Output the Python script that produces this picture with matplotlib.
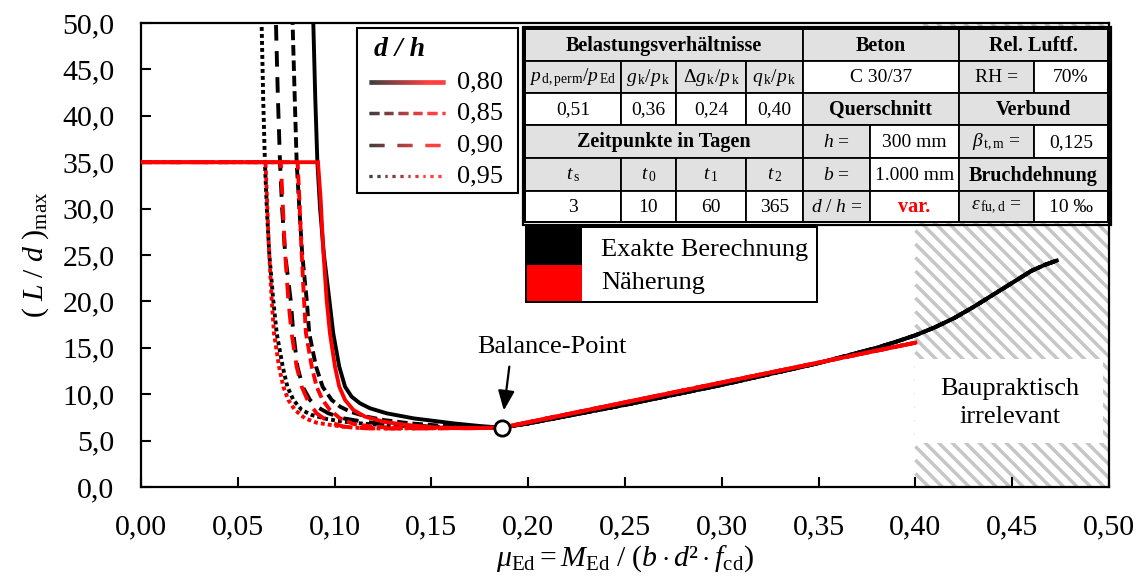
import numpy as np
import matplotlib
matplotlib.use("Agg")
import matplotlib.pyplot as plt
from matplotlib.collections import LineCollection
from matplotlib.patches import Rectangle
from matplotlib.ticker import FuncFormatter, MultipleLocator
from matplotlib.transforms import IdentityTransform

plt.rcParams['font.family'] = ['Liberation Serif', 'DejaVu Serif']
plt.rcParams['mathtext.fontset'] = 'custom'
plt.rcParams['mathtext.rm'] = 'Liberation Serif'
plt.rcParams['mathtext.it'] = 'Liberation Serif:italic'
plt.rcParams['mathtext.bf'] = 'Liberation Serif:bold'

# ---------------------------------------------------------------- data
dh_labels = ["0,80", "0,85", "0,90", "0,95"]

# balance point shared by all curves
mu_bp = 0.1863
L_bp = 6.39

# upper limit of the approximation
L_cap = 35.0

# exact calculation, left branch (steep part down to the balance point)
exact_080_mu = [0.0882, 0.0890, 0.0900, 0.0911, 0.0925, 0.0945, 0.0973, 0.0993, 0.1024, 0.1054,
                0.1088, 0.1131, 0.1183, 0.1269, 0.1407, 0.1613, 0.1751]
exact_080_L = [56, 50, 42, 35, 30, 25, 20.15, 16.56, 12.97, 10.81,
               9.73, 9.02, 8.48, 7.94, 7.40, 6.86, 6.57]
exact_085_mu = [0.0780, 0.0783, 0.0794, 0.0804, 0.0818, 0.0833, 0.0856, 0.0869, 0.0904, 0.0938,
                0.0985, 0.1028, 0.1080, 0.1166, 0.1252, 0.1389, 0.1544, 0.1682]
exact_085_L = [56, 50, 42, 35, 30, 25, 20.15, 16.56, 12.97, 10.81,
               9.38, 8.66, 8.12, 7.58, 7.22, 6.86, 6.61, 6.50]
exact_090_mu = [0.0695, 0.0697, 0.0707, 0.0718, 0.0729, 0.0745, 0.0773, 0.0787, 0.0808, 0.0835,
                0.0873, 0.0907, 0.0968, 0.1045, 0.1148, 0.1269, 0.1424, 0.1600]
exact_090_L = [56, 50, 42, 35, 30, 25, 20.15, 16.56, 12.97, 10.81,
               9.38, 8.66, 7.94, 7.40, 7.04, 6.75, 6.57, 6.45]
exact_095_mu = [0.0621, 0.0623, 0.0631, 0.0640, 0.0650, 0.0663, 0.0683, 0.0701, 0.0732, 0.0756,
                0.0787, 0.0830, 0.0882, 0.0959, 0.1045, 0.1166, 0.1350, 0.1550]
exact_095_L = [56, 50, 42, 35, 30, 25, 20.15, 16.56, 12.97, 10.81,
               9.38, 8.30, 7.76, 7.33, 7.04, 6.79, 6.60, 6.47]

# approximation, left branch (capped at L_cap)
approx_080_mu = [0.0, 0.0914, 0.0928, 0.0940, 0.0959, 0.0976, 0.1002, 0.1024, 0.1054, 0.1097,
                 0.1157, 0.1252, 0.1372, 0.1510, 0.1682]
approx_080_L = [L_cap, L_cap, 31, 26, 20.15, 16.56, 12.97, 10.81, 9.38, 8.30,
                7.58, 7.04, 6.68, 6.43, 6.32]
approx_085_mu = [0.0, 0.0809, 0.0818, 0.0828, 0.0842, 0.0852, 0.0882, 0.0907, 0.0938, 0.0976,
                 0.1028, 0.1097, 0.1200, 0.1338, 0.1510]
approx_085_L = [L_cap, L_cap, 31, 26, 20.15, 16.56, 12.97, 10.81, 9.38, 8.30,
                7.40, 6.79, 6.50, 6.36, 6.32]
approx_090_mu = [0.0, 0.0722, 0.0731, 0.0742, 0.0761, 0.0778, 0.0804, 0.0830, 0.0864, 0.0907,
                 0.0968, 0.1045, 0.1166, 0.1350]
approx_090_L = [L_cap, L_cap, 31, 26, 20.15, 16.56, 12.97, 10.81, 9.20, 7.94,
                7.04, 6.50, 6.32, 6.30]
approx_095_mu = [0.0, 0.0643, 0.0651, 0.0660, 0.0675, 0.0687, 0.0713, 0.0735, 0.0761, 0.0795,
                 0.0847, 0.0907, 0.0993, 0.1097, 0.1250]
approx_095_L = [L_cap, L_cap, 31, 26, 20.15, 16.56, 12.97, 10.81, 9.38, 8.30,
                7.40, 6.93, 6.64, 6.39, 6.30]

# right branch beyond the balance point (identical for all d/h)
exact_right_mu = [mu_bp, 0.20, 0.25, 0.30, 0.35, 0.38, 0.39, 0.40, 0.41, 0.42, 0.43, 0.44,
                  0.45, 0.46, 0.467, 0.473]
exact_right_L = [L_bp, 6.85, 8.85, 11.0, 13.35, 15.0, 15.65, 16.35, 17.2, 18.2, 19.4, 20.7,
                 22.0, 23.3, 23.95, 24.4]
approx_right_mu = [mu_bp, 0.40]
approx_right_L = [L_bp, 15.55]

# practically irrelevant range
mu_irrelevant = (0.40, 0.50)

# parameter table: (row, first col, last col, text, shaded, bold, colour)
table_cells = [
    (0, 0, 4, "Belastungsverhältnisse", True, True, "black"),
    (0, 4, 6, "Beton", True, True, "black"),
    (0, 6, 8, "Rel. Luftf.", True, True, "black"),
    (1, 0, 1, r"$p_{\,\mathrm{d,perm}}/p_{\,\mathrm{Ed}}$", True, False, "black"),
    (1, 1, 2, r"$g_{\,\mathrm{k}}/p_{\,\mathrm{k}}$", True, False, "black"),
    (1, 2, 3, r"$\Delta g_{\,\mathrm{k}}/p_{\,\mathrm{k}}$", True, False, "black"),
    (1, 3, 4, r"$q_{\,\mathrm{k}}/p_{\,\mathrm{k}}$", True, False, "black"),
    (1, 4, 6, "C 30/37", False, False, "black"),
    (1, 6, 7, "RH =", True, False, "black"),
    (1, 7, 8, "70%", False, False, "black"),
    (2, 0, 1, "0,51", False, False, "black"),
    (2, 1, 2, "0,36", False, False, "black"),
    (2, 2, 3, "0,24", False, False, "black"),
    (2, 3, 4, "0,40", False, False, "black"),
    (2, 4, 6, "Querschnitt", True, True, "black"),
    (2, 6, 8, "Verbund", True, True, "black"),
    (3, 0, 4, "Zeitpunkte in Tagen", True, True, "black"),
    (3, 4, 5, r"$h$ =", True, False, "black"),
    (3, 5, 6, "300 mm", False, False, "black"),
    (3, 6, 7, r"$\beta_{\,\mathrm{t,m}}$ =", True, False, "black"),
    (3, 7, 8, "0,125", False, False, "black"),
    (4, 0, 1, r"$t_{\,\mathrm{s}}$", True, False, "black"),
    (4, 1, 2, r"$t_{\,0}$", True, False, "black"),
    (4, 2, 3, r"$t_{\,1}$", True, False, "black"),
    (4, 3, 4, r"$t_{\,2}$", True, False, "black"),
    (4, 4, 5, r"$b$ =", True, False, "black"),
    (4, 5, 6, "1.000 mm", False, False, "black"),
    (4, 6, 8, "Bruchdehnung", True, True, "black"),
    (5, 0, 1, "3", False, False, "black"),
    (5, 1, 2, "10", False, False, "black"),
    (5, 2, 3, "60", False, False, "black"),
    (5, 3, 4, "365", False, False, "black"),
    (5, 4, 5, r"$d$ / $h$ =", True, False, "black"),
    (5, 5, 6, "var.", False, True, "red"),
    (5, 6, 7, r"$\varepsilon_{\,\mathrm{fu,d}}$ =", True, False, "black"),
    (5, 7, 8, "10 ‰", False, False, "black"),
]

# ---------------------------------------------------------------- figure
W, H = 1147, 583
fig = plt.figure(figsize=(W / 100, H / 100), dpi=100)
ax = fig.add_axes([141 / W, 1 - 487 / H, 968 / W, 464 / H])
ax.set_xlim(0, 0.5)
ax.set_ylim(0, 50)
ax.set_autoscale_on(False)

# hatched "irrelevant" range: diagonal stripes clipped to the rectangle (display pixels)
hx0, hy0 = ax.transData.transform((mu_irrelevant[0], 0.0))
hx1, hy1 = ax.transData.transform((mu_irrelevant[1], 50.0))
span = hy1 - hy0
segs = []
for c in np.arange(hx0 - span, hx1, 13.5):
    t0 = max(0.0, hx0 - c)
    t1 = min(span, hx1 - c)
    if t1 > t0:
        segs.append([(c + t0, hy1 - t0), (c + t1, hy1 - t1)])
hatch = LineCollection(segs, transform=IdentityTransform(), colors='#c6c6c6',
                       linewidths=2.5, zorder=1)
ax.add_collection(hatch, autolim=False)

styles = {
    "0,80": dict(linestyle='-'),
    "0,85": dict(dashes=(2.7, 1.25)),
    "0,90": dict(dashes=(4.0, 2.7)),
    "0,95": dict(dashes=(1.0, 0.8)),
}
exact_left = {"0,80": (exact_080_mu, exact_080_L), "0,85": (exact_085_mu, exact_085_L),
              "0,90": (exact_090_mu, exact_090_L), "0,95": (exact_095_mu, exact_095_L)}
approx_left = {"0,80": (approx_080_mu, approx_080_L), "0,85": (approx_085_mu, approx_085_L),
               "0,90": (approx_090_mu, approx_090_L), "0,95": (approx_095_mu, approx_095_L)}

LW = 2.8
for lab in reversed(dh_labels):
    mu, L = exact_left[lab]
    ax.plot(list(mu) + exact_right_mu, list(L) + exact_right_L, color='black', lw=LW,
            zorder=3, solid_joinstyle='round', **styles[lab])
for lab in reversed(dh_labels):
    mu, L = approx_left[lab]
    ax.plot(list(mu) + approx_right_mu, list(L) + approx_right_L, color='red', lw=LW,
            zorder=4, solid_joinstyle='miter', **styles[lab])

ax.plot([mu_bp], [L_bp], 'o', ms=11, mfc='white', mec='black', mew=2, zorder=6)
ax.annotate("", xy=(mu_bp, L_bp), xytext=(5.5, 44), textcoords='offset points',
            arrowprops=dict(arrowstyle='-|>,head_length=0.6,head_width=0.25', shrinkA=0,
                            shrinkB=12.5, lw=1.6, color='black', mutation_scale=20), zorder=6)
ax.annotate("Balance-Point", xy=(mu_bp, L_bp), xytext=(36.2, 58.1), textcoords='offset points',
            ha='center', va='center', fontsize=19, zorder=6)

# axes styling
ax.xaxis.set_major_locator(MultipleLocator(0.05))
ax.yaxis.set_major_locator(MultipleLocator(5))
ax.xaxis.set_major_formatter(FuncFormatter(lambda v, p: f"{v:.2f}".replace('.', ',')))
ax.yaxis.set_major_formatter(FuncFormatter(lambda v, p: f"{v:.1f}".replace('.', ',')))
ax.tick_params(axis='both', direction='in', length=7, width=1.5, labelsize=21.5)
ax.tick_params(axis='x', pad=20)
ax.tick_params(axis='y', pad=19)
for s in ax.spines.values():
    s.set_linewidth(1.6)
ax.set_xlabel(r"$\mu_{\mathrm{Ed}} = M_{\mathrm{Ed}}\ /\ (b\cdot d\mathrm{²}\cdot f_{\mathrm{cd}})$",
              fontsize=21.5, labelpad=2)
ax.set_ylabel(r"$(\ L\ /\ d\ )_{\mathrm{max}}$", fontsize=21.5, labelpad=8)

# ---------------------------------------------------------------- overlay (pixel coordinates)
ov = fig.add_axes([0, 0, 1, 1], zorder=5)
ov.set_xlim(0, W)
ov.set_ylim(H, 0)
ov.axis('off')
ov.patch.set_alpha(0)

# note in the hatched range
ov.add_patch(Rectangle((915, 359), 188, 84, facecolor='white', edgecolor='none'))
ov.text(1010, 403, "Baupraktisch\nirrelevant", ha='center', va='center', fontsize=19,
        linespacing=1.3)

# parameter table
col_x = [525, 621, 676, 746, 803, 870, 959, 1034, 1108]
row_y = [29, 61, 93, 125, 158, 191, 222]
for r, c0, c1, txt, shaded, bold, colr in table_cells:
    x0, x1 = col_x[c0], col_x[c1]
    y0, y1 = row_y[r], row_y[r + 1]
    ov.add_patch(Rectangle((x0, y0), x1 - x0, y1 - y0, facecolor='#e1e1e1' if shaded else 'white',
                           edgecolor='black', lw=1.3))
    ov.text((x0 + x1) / 2, (y0 + y1) / 2 + 1, txt, ha='center', va='center',
            fontsize=14.5 if bold else 14, fontweight='bold' if bold else 'normal', color=colr)
ov.add_patch(Rectangle((col_x[0], row_y[0]), col_x[-1] - col_x[0], row_y[-1] - row_y[0],
                       facecolor='none', edgecolor='black', lw=1.3))
ov.add_patch(Rectangle((col_x[0] - 2.5, row_y[0] - 2.5), col_x[-1] - col_x[0] + 5,
                       row_y[-1] - row_y[0] + 5, facecolor='none', edgecolor='black', lw=1.6))

# method legend
ov.add_patch(Rectangle((526, 227), 291, 75, facecolor='white', edgecolor='black', lw=1.3))
ov.add_patch(Rectangle((526, 227), 56, 38, facecolor='black', edgecolor='none'))
ov.add_patch(Rectangle((526, 265), 56, 37, facecolor='red', edgecolor='none'))
ov.add_patch(Rectangle((526, 227), 291, 75, facecolor='none', edgecolor='black', lw=1.3))
ov.text(601, 250, "Exakte Berechnung", ha='left', va='center', fontsize=19)
ov.text(601, 283, "Näherung", ha='left', va='center', fontsize=19)

# d/h legend with black-to-red gradient samples
ov.add_patch(Rectangle((357, 28), 161, 165, facecolor='white', edgecolor='black', lw=1.5))
ov.text(399, 50, "d / h", ha='center', va='center', fontsize=20, fontweight='bold',
        style='italic')
legend_patterns = {"0,80": None, "0,85": (10, 4.5), "0,90": (15, 13), "0,95": (3.2, 4.4)}
legend_widths = {"0,80": 4.6, "0,85": 3.4, "0,90": 3.4, "0,95": 3.2}
legend_rows = [82, 113, 145, 176]


def gradient_line(x0, x1, y, pattern, lw):
    xs = np.arange(x0, x1 + 0.01, 0.5)
    if pattern is None:
        on = np.ones(len(xs), bool)
    else:
        period = pattern[0] + pattern[1]
        on = ((xs - x0) % period) < pattern[0]
    segs, cols = [], []
    for i in range(len(xs) - 1):
        if on[i] and on[i + 1]:
            t = min(1.0, 1.3 * (xs[i] - x0) / (x1 - x0))
            segs.append([(xs[i], y), (xs[i + 1] + 0.3, y)])
            cols.append((t, 0, 0))
    lc = LineCollection(segs, colors=cols, linewidths=lw * 0.72, capstyle='butt')
    ov.add_collection(lc)


for lab, yy in zip(dh_labels, legend_rows):
    gradient_line(369, 445, yy, legend_patterns[lab], legend_widths[lab])
    ov.text(457, yy, lab, ha='left', va='center', fontsize=19)

fig.savefig("out.png", dpi=100)
